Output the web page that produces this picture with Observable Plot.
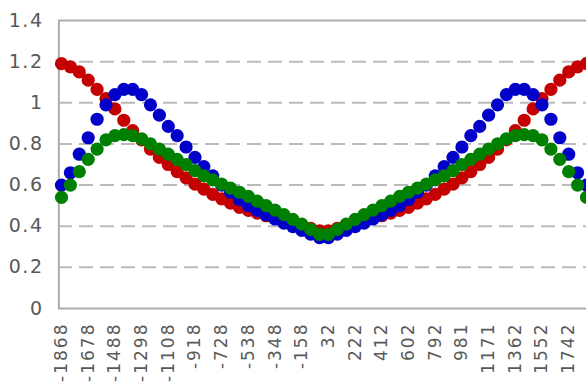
<!DOCTYPE html>
<html><head><meta charset="utf-8">
<script src="https://cdn.jsdelivr.net/npm/d3@7"></script>
<script src="https://cdn.jsdelivr.net/npm/@observablehq/plot@0.6"></script>
<style>body{margin:0;background:#fff} svg{display:block}</style>
</head><body><div id="chart"></div>
<script>
const xTickLabels = ["-1868","-1678","-1488","-1298","-1108","-918","-728","-538","-348","-158","32","222","412","602","792","981","1171","1362","1552","1742"];
const yTicks = [0, 0.2, 0.4, 0.6, 0.8, 1, 1.2, 1.4];
const redSeries = [1.19,1.175,1.15,1.11,1.065,1.02,0.97,0.915,0.865,0.82,0.775,0.735,0.70,0.665,0.635,0.605,0.58,0.555,0.533,0.512,0.492,0.477,0.464,0.451,0.438,0.426,0.414,0.402,0.39,0.378,
  0.378,0.39,0.402,0.414,0.426,0.438,0.451,0.464,0.477,0.492,0.512,0.533,0.555,0.58,0.605,0.635,0.665,0.70,0.735,0.775,0.82,0.865,0.915,0.97,1.02,1.065,1.11,1.15,1.175,1.19];
const blueSeries = [0.60,0.66,0.75,0.83,0.92,0.99,1.04,1.065,1.065,1.04,0.99,0.94,0.885,0.84,0.785,0.735,0.69,0.645,0.60,0.565,0.53,0.50,0.477,0.455,0.435,0.415,0.398,0.38,0.362,0.345,
  0.345,0.362,0.38,0.398,0.415,0.435,0.455,0.477,0.50,0.53,0.565,0.60,0.645,0.69,0.735,0.785,0.84,0.885,0.94,0.99,1.04,1.065,1.065,1.04,0.99,0.92,0.83,0.75,0.66,0.60];
const greenSeries = [0.54,0.60,0.665,0.725,0.775,0.82,0.84,0.845,0.84,0.825,0.80,0.775,0.75,0.725,0.70,0.67,0.645,0.625,0.605,0.585,0.565,0.545,0.522,0.50,0.478,0.456,0.433,0.41,0.385,0.36,
  0.36,0.385,0.41,0.433,0.456,0.478,0.50,0.522,0.545,0.565,0.585,0.605,0.625,0.645,0.67,0.70,0.725,0.75,0.775,0.80,0.825,0.84,0.845,0.84,0.82,0.775,0.725,0.665,0.60,0.54];

const toRows = arr => arr.map((v, i) => ({i, v}));
const tickIdx = xTickLabels.map((_, k) => k * 3);

const plot = Plot.plot({
  width: 586, height: 383,
  marginLeft: 58, marginRight: 0, marginTop: 20, marginBottom: 75,
  style: {fontFamily: "DejaVu Sans", background: "#fff"},
  x: {domain: [0, 59], range: [61, 586]},
  y: {domain: [0, 1.4]},
  marks: [
    Plot.ruleY(yTicks.filter(d => d > 0 && d < 1.4), {stroke: "#bababa", strokeWidth: 2, strokeDasharray: "14,7"}),
    Plot.ruleY([0, 1.4], {stroke: "#ababab", strokeWidth: 2}),
    Plot.ruleX([-0.3], {stroke: "#ababab", strokeWidth: 2}),
    Plot.axisY({ticks: yTicks, tickFormat: d => String(d), tickSize: 0, tickPadding: 15, fontSize: 19, fill: "#595959", label: null}),
    Plot.axisX({ticks: tickIdx, tickFormat: i => xTickLabels[i / 3], tickSize: 0, tickPadding: 14, tickRotate: -90, fontSize: 17, fill: "#595959", label: null}),
    Plot.dot(toRows(redSeries), {x: "i", y: "v", r: 6.6, fill: "#c40000"}),
    Plot.dot(toRows(blueSeries), {x: "i", y: "v", r: 6.6, fill: "#0000c8"}),
    Plot.dot(toRows(greenSeries), {x: "i", y: "v", r: 6.6, fill: "#008000"})
  ]
});
document.getElementById("chart").appendChild(plot);
d3.select(plot).selectAll('g[aria-label="x-axis tick label"] text').style("letter-spacing", "2px");
d3.select(plot).selectAll('g[aria-label="y-axis tick label"] text').style("letter-spacing", "1.5px");
</script>
</body></html>
